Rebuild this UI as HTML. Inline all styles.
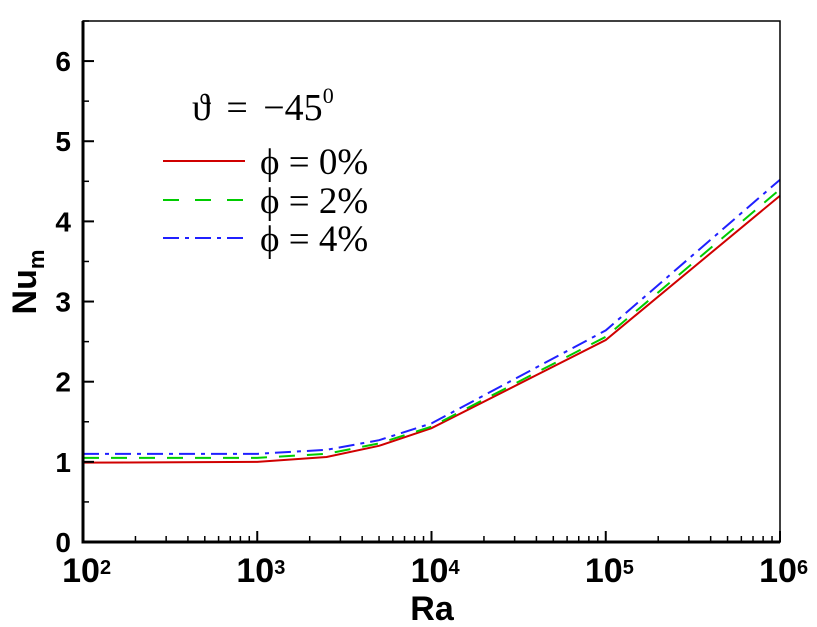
<!DOCTYPE html>
<html><head><meta charset="utf-8"><style>
body{margin:0;background:#fff}
svg{display:block}
text{font-family:"Liberation Sans",sans-serif}
text.serif{font-family:"Liberation Serif",serif}
</style></head><body>
<svg id="chart" width="817" height="627">
<g id="marks"></g>
<g id="axes"></g>
</svg>
<script>
const raValues=[100,1000,2500,5000,10000,100000,1000000];
const nu0=[0.99,1.0,1.06,1.2,1.42,2.52,4.32];
const nu2=[1.05,1.05,1.1,1.23,1.44,2.56,4.4];
const nu4=[1.1,1.1,1.15,1.27,1.48,2.64,4.52];
const yTicks=[0,1,2,3,4,5,6];
const xTickExps=[2,3,4,5,6];
const X0=83,X1=780,Y0=542,Ytop=21;
function xs(v){return X0+(Math.log10(v)-2)/4*(X1-X0);}
function ys(v){return Y0-v/6.5*(Y0-Ytop);}
const NS="http://www.w3.org/2000/svg";
const marks=document.getElementById('marks');
const axes=document.getElementById('axes');
function mk(tag,attrs,parent){const e=document.createElementNS(NS,tag);for(const k in attrs)e.setAttribute(k,attrs[k]);parent.appendChild(e);return e;}
const series=[[nu0,'#d00000','','series-phi-0'],[nu2,'#00cc00','16 12','series-phi-2'],[nu4,'#2020ff','16 6 4 6','series-phi-4']];
series.forEach(s=>{
  const p=mk('polyline',{points:raValues.map((r,i)=>xs(r)+','+ys(s[0][i])).join(' '),fill:'none',stroke:s[1],'stroke-width':2,'stroke-dasharray':s[2]},marks);
  
  
});
const fr=mk('rect',{x:X0,y:Ytop,width:X1-X0,height:Y0-Ytop,fill:'none',stroke:'#000','stroke-width':1.5},axes);


mk('line',{x1:X0,y1:Ytop,x2:X0,y2:Y0+1.5,stroke:'#000','stroke-width':3},axes);
mk('line',{x1:X0-1.5,y1:Y0,x2:X1,y2:Y0,stroke:'#000','stroke-width':3},axes);
yTicks.forEach(v=>{
  mk('line',{x1:X0,y1:ys(v),x2:X0+11,y2:ys(v),stroke:'#000','stroke-width':2},axes);
  mk('line',{x1:X0,y1:ys(v+0.5),x2:X0+6,y2:ys(v+0.5),stroke:'#000','stroke-width':1.5},axes);
  const t=mk('text',{x:X0-12,y:ys(v)+10,'text-anchor':'end','font-size':28,'font-weight':'bold'},axes);
  t.textContent=v;
  
  
});
xTickExps.forEach(e=>{
  const x=xs(Math.pow(10,e));
  mk('line',{x1:x,y1:Y0,x2:x,y2:Y0-11,stroke:'#000','stroke-width':2},axes);
  if(e<6)for(let m=2;m<10;m++){const xm=xs(m*Math.pow(10,e));mk('line',{x1:xm,y1:Y0,x2:xm,y2:Y0-6,stroke:'#000','stroke-width':1.5},axes);}
  const t=mk('text',{x:x-2,y:582,'text-anchor':'middle','font-size':34,'font-weight':'bold'},axes);
  t.textContent='10';
  
  
  const s=mk('text',{x:x+17,y:574,'font-size':20,'font-weight':'bold'},axes);
  s.textContent=e;
});
</script>
<svg style="position:absolute;left:0;top:0" width="817" height="627">
<text x="432" y="620" text-anchor="middle" font-size="34" font-weight="bold">Ra</text>
<g transform="translate(36,282) rotate(-90)"><text x="0" y="0" text-anchor="middle" font-size="34" font-weight="bold">Nu<tspan font-size="22" dy="8">m</tspan></text></g>
<g>
<text class="serif" x="192" y="120" font-size="38" word-spacing="6">ϑ = −45<tspan font-size="22" dy="-17">0</tspan></text>
<line x1="163" y1="161" x2="245" y2="161" stroke="#d00000" stroke-width="2"/>
<text class="serif" x="260" y="174" font-size="37">ϕ = 0%</text>
<line x1="163" y1="200" x2="245" y2="200" stroke="#00cc00" stroke-width="2" stroke-dasharray="16 16"/>
<text class="serif" x="260" y="213" font-size="37">ϕ = 2%</text>
<line x1="163" y1="238" x2="245" y2="238" stroke="#2020ff" stroke-width="2" stroke-dasharray="16 6 4 6"/>
<text class="serif" x="260" y="251" font-size="37">ϕ = 4%</text>
</g>
</svg>
</body></html>
